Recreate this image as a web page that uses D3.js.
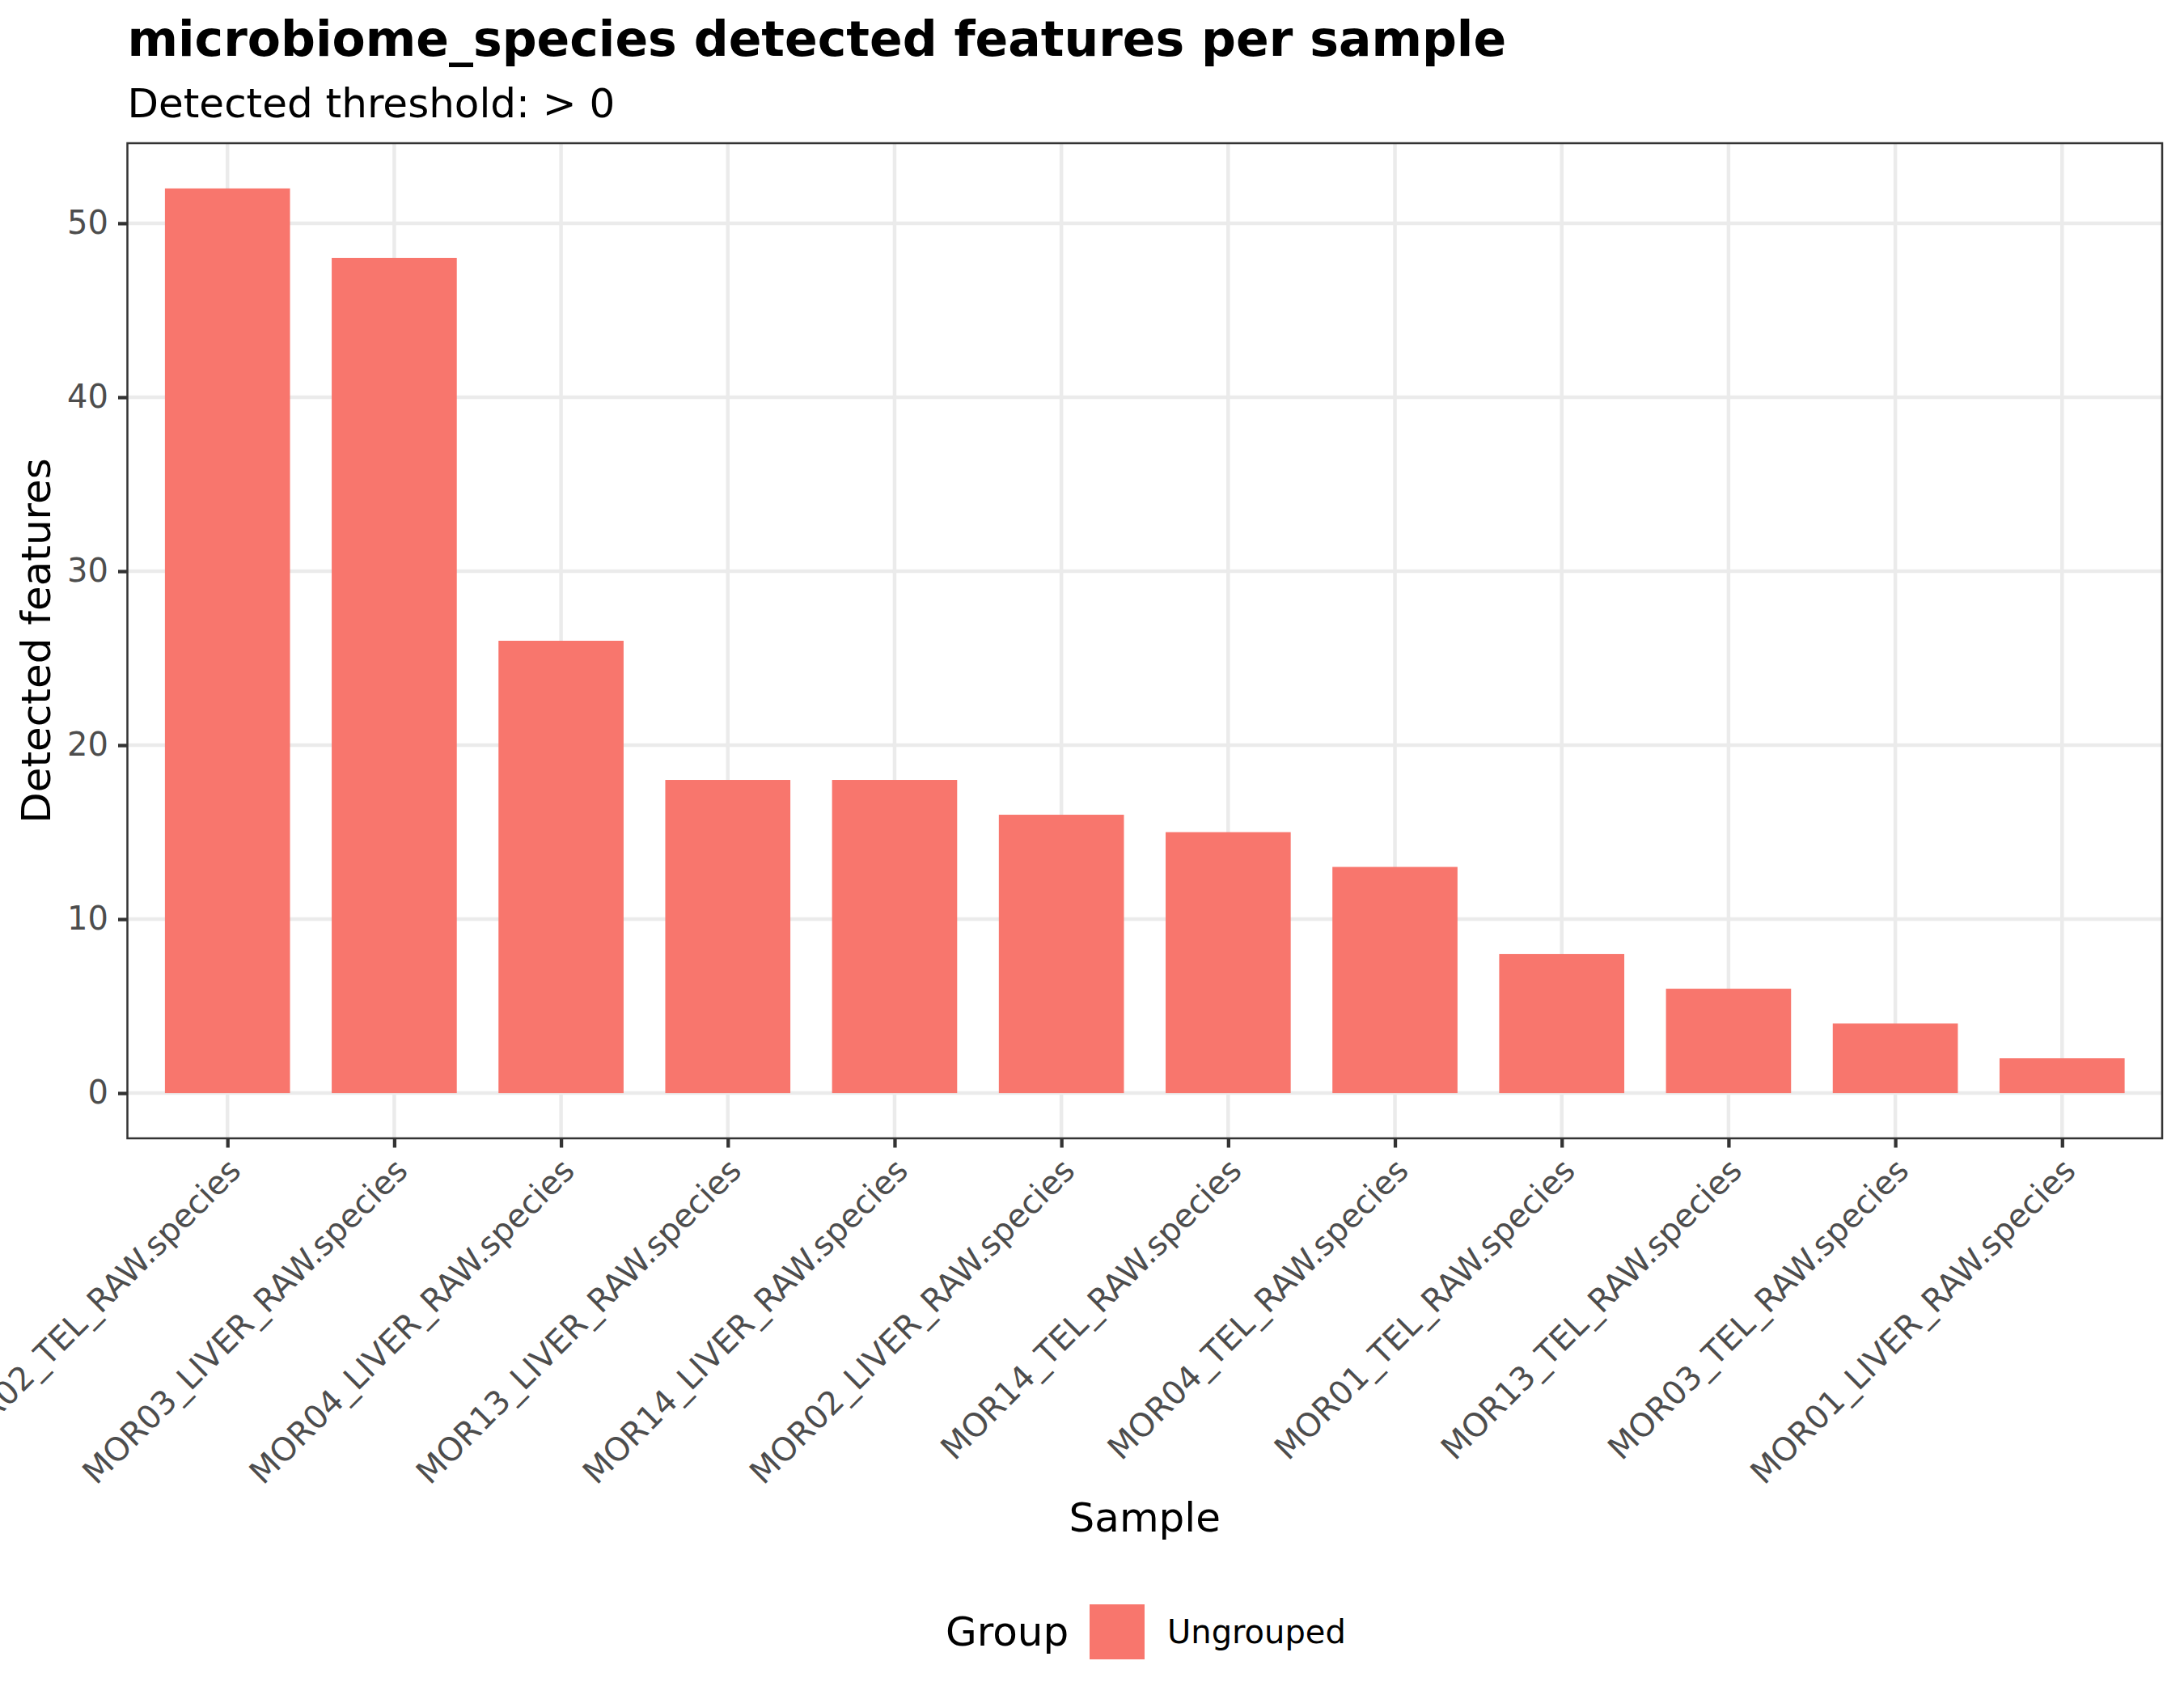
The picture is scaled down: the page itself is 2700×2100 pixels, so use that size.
<!DOCTYPE html>
<html>
<head>
<meta charset="utf-8">
<script src="https://cdn.jsdelivr.net/npm/d3@7"></script>
<style>
  body { margin: 0; background: #fff; }
  svg { font-family: 'DejaVu Sans', sans-serif; }
</style>
</head>
<body>
<div id="chart"></div>
<script>
// detected features per sample bar chart
let samples = ['MOR02_TEL_RAW.species', 'MOR03_LIVER_RAW.species', 'MOR04_LIVER_RAW.species', 'MOR13_LIVER_RAW.species',
  'MOR14_LIVER_RAW.species', 'MOR02_LIVER_RAW.species', 'MOR14_TEL_RAW.species', 'MOR04_TEL_RAW.species',
  'MOR01_TEL_RAW.species', 'MOR13_TEL_RAW.species', 'MOR03_TEL_RAW.species', 'MOR01_LIVER_RAW.species']
let detected = [52, 48, 26, 18, 18, 16, 15, 13, 8, 6, 4, 2]
let yTicks = [0, 10, 20, 30, 40, 50]
let groups = ['Ungrouped']
let groupColors = ['#F8766D']

let width = 2700
let height = 2100
let margin = {top: 177, right: 27, bottom: 693, left: 157.5}
let plotW = width - margin.left - margin.right
let plotH = height - margin.top - margin.bottom

let svg = d3.select('#chart').append('svg')
  .attr('width', width)
  .attr('height', height)

// ggplot style expansion: 5% on y, 0.6 on discrete x
let yMax = d3.max(detected)
let y = d3.scaleLinear().domain([-yMax * 0.05, yMax * 1.05]).range([plotH, 0])
let x = d3.scalePoint().domain(samples).range([0, plotW]).padding(0.6)
let barW = x.step() * 0.75
let color = d3.scaleOrdinal().domain(groups).range(groupColors)

// title + subtitle
svg.append('text')
  .attr('x', margin.left).attr('y', 69)
  .attr('font-size', 60).attr('font-weight', 'bold')
  .text('microbiome_species detected features per sample')
svg.append('text')
  .attr('x', margin.left).attr('y', 145)
  .attr('font-size', 50)
  .text('Detected threshold: > 0')

let g = svg.append('g').attr('transform', `translate(${margin.left},${margin.top})`)

// grid lines
g.selectAll('.hgrid').data(yTicks).enter().append('line')
  .attr('class', 'hgrid')
  .attr('x1', 0).attr('x2', plotW)
  .attr('y1', d => y(d)).attr('y2', d => y(d))
  .attr('stroke', '#EBEBEB').attr('stroke-width', 4.5)
g.selectAll('.vgrid').data(samples).enter().append('line')
  .attr('class', 'vgrid')
  .attr('x1', d => x(d)).attr('x2', d => x(d))
  .attr('y1', 0).attr('y2', plotH)
  .attr('stroke', '#EBEBEB').attr('stroke-width', 4.5)

// bars
g.selectAll('.bar').data(samples).enter().append('rect')
  .attr('class', 'bar')
  .attr('x', d => x(d) - barW / 2)
  .attr('width', barW)
  .attr('y', (d, i) => y(detected[i]))
  .attr('height', (d, i) => y(0) - y(detected[i]))
  .attr('fill', color('Ungrouped'))

// panel border
g.append('rect')
  .attr('x', 0).attr('y', 0).attr('width', plotW).attr('height', plotH)
  .attr('fill', 'none').attr('stroke', '#333333').attr('stroke-width', 2.5)

// y axis
let yAxis = g.append('g')
  .call(d3.axisLeft(y).tickValues(yTicks).tickSize(11.5).tickPadding(12))
yAxis.select('.domain').remove()
yAxis.selectAll('.tick line').attr('stroke', '#333333').attr('stroke-width', 4.3)
yAxis.selectAll('.tick text')
  .attr('font-size', 40).attr('fill', '#4D4D4D')
  .attr('font-family', 'DejaVu Sans')

// x axis with rotated labels
let xAxis = g.append('g')
  .attr('transform', `translate(0,${plotH})`)
  .call(d3.axisBottom(x).tickSize(11.5))
xAxis.select('.domain').remove()
xAxis.selectAll('.tick line').attr('stroke', '#333333').attr('stroke-width', 4.3)
xAxis.selectAll('.tick text')
  .attr('font-size', 40).attr('fill', '#4D4D4D')
  .attr('font-family', 'DejaVu Sans')
  .attr('text-anchor', 'end')
  .attr('x', 0).attr('y', 0).attr('dy', '0.72em')
  .attr('transform', 'translate(-2,22) rotate(-45)')

// axis titles
svg.append('text')
  .attr('x', margin.left + plotW / 2).attr('y', 1893)
  .attr('text-anchor', 'middle').attr('font-size', 50)
  .text('Sample')
svg.append('text')
  .attr('transform', `translate(62,${margin.top + plotH / 2}) rotate(-90)`)
  .attr('text-anchor', 'middle').attr('font-size', 50)
  .text('Detected features')

// legend at the bottom
let legend = svg.append('g')
legend.append('text')
  .attr('x', 1169).attr('y', 2034)
  .attr('font-size', 50)
  .text('Group')
legend.selectAll('.key').data(groups).enter().append('rect')
  .attr('class', 'key')
  .attr('x', 1347).attr('y', 1983)
  .attr('width', 68).attr('height', 68)
  .attr('fill', d => color(d))
legend.selectAll('.lab').data(groups).enter().append('text')
  .attr('class', 'lab')
  .attr('x', 1443).attr('y', 2031)
  .attr('font-size', 40)
  .text(d => d)
</script>
</body>
</html>
